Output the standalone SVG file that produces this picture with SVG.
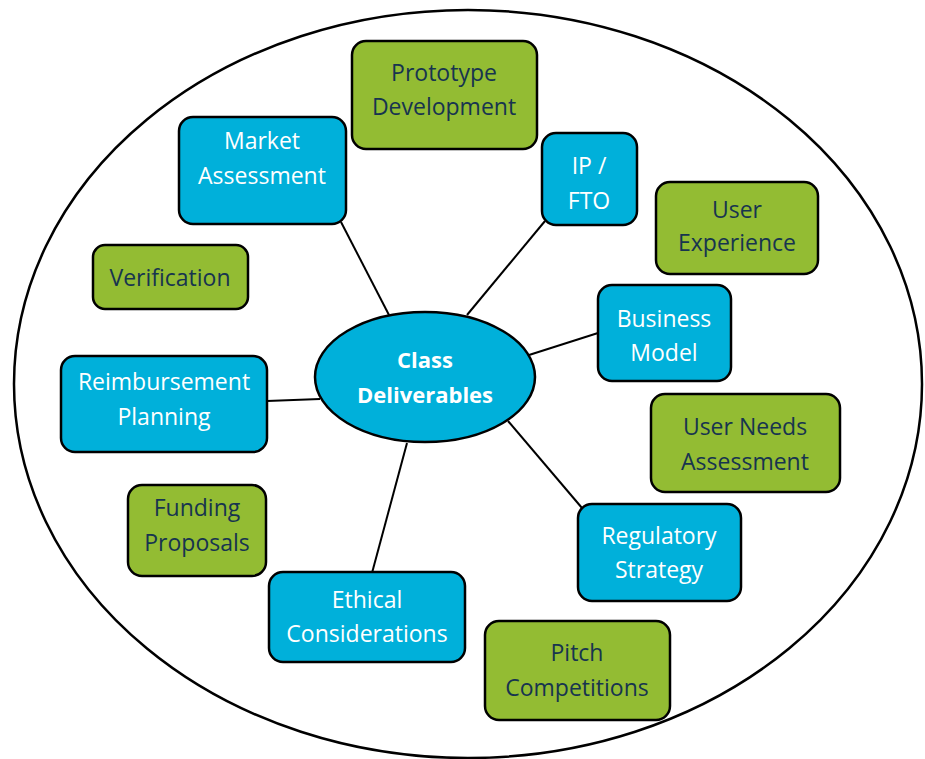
<svg xmlns="http://www.w3.org/2000/svg" width="925" height="759" viewBox="0 0 925 759">
<style>
.bg{fill:#fff}
.outer{fill:none;stroke:#000;stroke-width:2.5}
.blue{fill:#00B0DA;stroke:#000;stroke-width:2.5}
.green{fill:#93BC33;stroke:#000;stroke-width:2.5}
.conn line{stroke:#000;stroke-width:2}
text{font-family:"Open Sans","Noto Sans","Liberation Sans",sans-serif;font-size:23px;text-anchor:middle;dominant-baseline:central}
.w{fill:#fff}
.d{fill:#17344F}
.b{font-weight:bold;font-size:22px}
</style>
<rect class="bg" x="0" y="0" width="925" height="759"/>
<ellipse class="outer" cx="468" cy="384" rx="454" ry="374"/>
<g id="connectors" class="conn">
<line x1="341" y1="222" x2="389" y2="315"/>
<line x1="545" y1="221" x2="467" y2="315"/>
<line x1="598" y1="333" x2="529" y2="355"/>
<line x1="508" y1="421" x2="582" y2="508"/>
<line x1="407" y1="443" x2="372" y2="573"/>
<line x1="267" y1="401" x2="320" y2="399"/>
</g>
<g id="class-deliverables">
<ellipse class="blue" cx="425" cy="377" rx="110" ry="65"/>
<text class="w b" x="425" y="359">Class</text>
<text class="w b" x="425" y="394">Deliverables</text>
</g>
<g id="prototype-development">
<rect class="green" x="352" y="41" width="185" height="108" rx="14"/>
<text class="d" x="444" y="72">Prototype</text>
<text class="d" x="444" y="106">Development</text>
</g>
<g id="market-assessment">
<rect class="blue" x="179" y="117" width="167" height="107" rx="14"/>
<text class="w" x="262" y="140">Market</text>
<text class="w" x="262" y="175">Assessment</text>
</g>
<g id="ip-fto">
<rect class="blue" x="542" y="133" width="95" height="92" rx="14"/>
<text class="w" x="589" y="165">IP /</text>
<text class="w" x="589" y="200">FTO</text>
</g>
<g id="user-experience">
<rect class="green" x="656" y="182" width="162" height="92" rx="14"/>
<text class="d" x="737" y="209">User</text>
<text class="d" x="737" y="242">Experience</text>
</g>
<g id="verification">
<rect class="green" x="93" y="245" width="155" height="64" rx="12"/>
<text class="d" x="170" y="277">Verification</text>
</g>
<g id="business-model">
<rect class="blue" x="598" y="285" width="133" height="96" rx="14"/>
<text class="w" x="664" y="318">Business</text>
<text class="w" x="664" y="352">Model</text>
</g>
<g id="reimbursement-planning">
<rect class="blue" x="61" y="356" width="206" height="96" rx="14"/>
<text class="w" x="164" y="381">Reimbursement</text>
<text class="w" x="164" y="416">Planning</text>
</g>
<g id="user-needs-assessment">
<rect class="green" x="651" y="394" width="189" height="98" rx="14"/>
<text class="d" x="745" y="426">User Needs</text>
<text class="d" x="745" y="461">Assessment</text>
</g>
<g id="funding-proposals">
<rect class="green" x="128" y="485" width="138" height="91" rx="14"/>
<text class="d" x="197" y="507">Funding</text>
<text class="d" x="197" y="542">Proposals</text>
</g>
<g id="regulatory-strategy">
<rect class="blue" x="578" y="504" width="163" height="97" rx="14"/>
<text class="w" x="659" y="535">Regulatory</text>
<text class="w" x="659" y="569">Strategy</text>
</g>
<g id="ethical-considerations">
<rect class="blue" x="269" y="572" width="196" height="90" rx="14"/>
<text class="w" x="367" y="599">Ethical</text>
<text class="w" x="367" y="633">Considerations</text>
</g>
<g id="pitch-competitions">
<rect class="green" x="485" y="621" width="185" height="99" rx="14"/>
<text class="d" x="577" y="652">Pitch</text>
<text class="d" x="577" y="687">Competitions</text>
</g>
</svg>
